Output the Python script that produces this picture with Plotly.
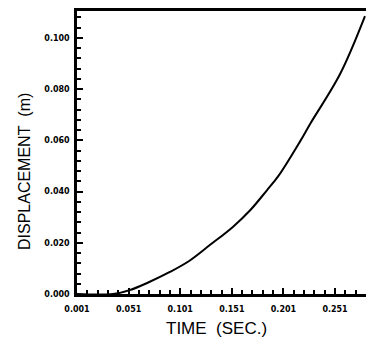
import plotly.graph_objects as go

time_s = [0.001, 0.036, 0.052, 0.070, 0.091, 0.110, 0.130, 0.152, 0.169, 0.185, 0.196, 0.217, 0.227, 0.256, 0.280]
disp_m = [0.0, 0.0, 0.0015, 0.0045, 0.0086, 0.0130, 0.0192, 0.0262, 0.0328, 0.0405, 0.0460, 0.0595, 0.0665, 0.0860, 0.1085]

x_ticks = [0.001, 0.051, 0.101, 0.151, 0.201, 0.251]
y_ticks = [0.000, 0.020, 0.040, 0.060, 0.080, 0.100]

fig = go.Figure()
fig.add_trace(go.Scatter(x=time_s, y=disp_m, mode="lines",
                         line=dict(color="black", width=2, shape="spline", smoothing=1.0),
                         showlegend=False))

tick_font = dict(family="DejaVu Sans", size=8, color="black", weight="bold")
title_font = dict(family="Liberation Sans", size=17, color="black")

fig.update_layout(
    width=366, height=339,
    margin=dict(l=77, r=0, t=11, b=45),
    paper_bgcolor="white", plot_bgcolor="white",
    xaxis=dict(
        range=[0.001, 0.281], tickvals=x_ticks, tickformat=".3f",
        ticks="inside", ticklen=6, tickwidth=1.5, tickcolor="black",
        minor=dict(dtick=0.01, tick0=0.001, ticks="inside", ticklen=4, tickwidth=1.5, tickcolor="black"),
        showline=True, linewidth=2.5, linecolor="black", mirror=True,
        showgrid=False, zeroline=False, automargin=False,
        tickfont=tick_font, ticklabelstandoff=6,
    ),
    yaxis=dict(
        range=[0, 0.1105], tickvals=y_ticks, tickformat=".3f",
        ticks="inside", ticklen=6, tickwidth=1.5, tickcolor="black",
        minor=dict(dtick=0.004, tick0=0, ticks="inside", ticklen=4, tickwidth=1.5, tickcolor="black"),
        showline=True, linewidth=2.5, linecolor="black",
        showgrid=False, zeroline=False, automargin=False,
        tickfont=tick_font, ticklabelstandoff=3,
    ),
    annotations=[
        dict(text="TIME\u00a0\u00a0(SEC.)", xref="paper", yref="paper", x=0.484, y=0,
             xanchor="center", yanchor="middle", yshift=-34, showarrow=False, font=title_font),
        dict(text="DISPLACEMENT\u00a0\u00a0(m)", xref="paper", yref="paper", x=0, y=0.431,
             xanchor="center", yanchor="middle", xshift=-53, textangle=-90, showarrow=False,
             font=dict(family="Liberation Sans", size=16, color="black")),
    ],
)

fig.write_html("out.html", config={"displayModeBar": False},
               post_script="document.body.style.margin='0px';document.body.style.overflow='hidden';")
